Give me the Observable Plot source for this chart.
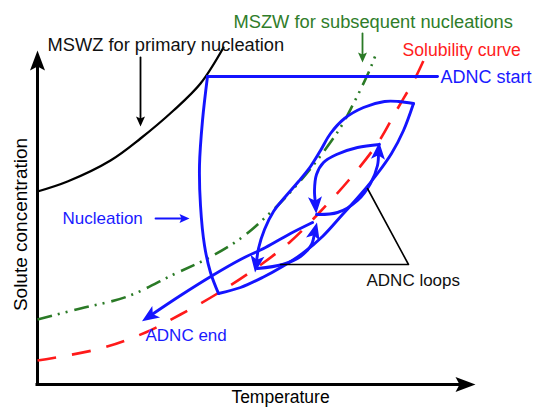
<!DOCTYPE html>
<html><head><meta charset="utf-8">
<script src="https://cdn.jsdelivr.net/npm/d3@7"></script>
<script src="https://cdn.jsdelivr.net/npm/@observablehq/plot@0.6"></script>
<style>body{margin:0;background:#fff}#chart svg{display:block}</style>
</head><body><div id="chart"></div>
<script>
// Schematic values, arbitrary units (temperature 0-110, concentration 0-84)
const primaryT = [0, 7.5, 18.25, 25.75, 34, 40.75, 46.5];
const primaryC = [48.25, 50.75, 56, 61.5, 68.5, 75.25, 84.25];

const subseqT = [0, 10.75, 22.5, 34, 42.5, 50.75, 58.25, 64.5, 70.25, 75.75, 79, 81.25, 83, 84.75];
const subseqC = [16.25, 19, 22, 27.5, 31.5, 36.5, 43, 49.5, 56.5, 64.25, 70.25, 74.75, 78.5, 83];

const solT = [0, 15.75, 27, 35.75, 45, 54.5, 63.25, 70.25, 77.75, 85, 89.75, 94.5, 96.75];
const solC = [6, 9, 13, 17.5, 22.75, 29, 35.75, 42.75, 51, 60.25, 68.5, 76.75, 81.5];

const startT = [100, 42.5];
const startC = [77, 77];

const nuclT = [42.5, 41.25, 40.5, 40.75, 41.75, 43.25, 45.25];
const nuclC = [77, 66, 54.75, 44.75, 34.75, 28, 22.75];

const loop1LowT = [45.25, 50.75, 56.25, 61.25, 66.25, 71.25, 76.25, 80.75, 85, 88.5, 91.5, 94];
const loop1LowC = [22.75, 24.25, 26.75, 29.5, 32.75, 37, 42.5, 47.5, 52.75, 57.75, 63.5, 70.25];

const loop1UpT = [94, 90.25, 86.75, 81.5, 76.75, 73.25, 70.75, 68.25, 65.25, 62, 59, 56.75, 55.25, 54.75];
const loop1UpC = [70.25, 70.75, 70.75, 69.25, 66.5, 62.75, 58.5, 54.5, 50.75, 47, 43.25, 38.75, 34, 30.5];

const loop2UpT = [85.5, 80, 74.75, 71.5, 69.75, 69.25, 69.5];
const loop2UpC = [60, 59.25, 57.5, 55.5, 52.5, 48.5, 45.25];

const loop2LowT = [69.75, 75, 80, 83.25, 85, 85.25];
const loop2LowC = [42.5, 43, 46, 50.25, 54.75, 58];

const loop3LowT = [55, 61.25, 65.75, 68.5, 69.25];
const loop3LowC = [29, 30, 32, 35, 38];

const endT = [68.75, 63.25, 57, 50.75, 43.75, 35.75, 28.25];
const endC = [40.5, 37.75, 34.25, 31.25, 27.25, 22.25, 17.25];

const loopsPointerT = [82.5, 92.75, 60.75];
const loopsPointerC = [49, 30, 30];

const primaryArrowT = [25.75, 25.75];
const primaryArrowC = [81.75, 66];
const subseqArrowT = [81.25, 81.25];
const subseqArrowC = [87.75, 82];
const nuclArrowT = [29.5, 36.5];
const nuclArrowC = [41.5, 41.5];

const axisMaxT = 106.5;
const axisMaxC = 80.5;

const labels = [
  {text: "MSWZ for primary nucleation", x: 2.5, y: 84.75, color: "#111111", size: 18.3},
  {text: "MSZW for subsequent nucleations", x: 49, y: 90.5, color: "#2f7d2a", size: 18.3},
  {text: "Solubility curve", x: 91.25, y: 83.5, color: "#ff1c1c", size: 17.6},
  {text: "ADNC start", x: 100.75, y: 76.75, color: "#1a1aff", size: 18},
  {text: "Nucleation", x: 6.25, y: 41.5, color: "#1a1aff", size: 17},
  {text: "ADNC end", x: 27, y: 12.25, color: "#1a1aff", size: 17},
  {text: "ADNC loops", x: 82.25, y: 26, color: "#111111", size: 17}
];

const BLUE = "#1414ff", RED = "#ff1a1a", GREEN = "#2a7a26", BLACK = "#000";

const pts = (xs, ys) => xs.map((x, i) => ({x, y: ys[i]}));
const endOf = (xs, ys) => {
  const n = xs.length;
  return {x: xs[n - 1], y: ys[n - 1], a: Math.atan2(xs[n - 1] - xs[n - 2], ys[n - 1] - ys[n - 2]) * 180 / Math.PI};
};
const head = (len, half, notch) => ({
  draw(ctx) {
    ctx.moveTo(0, -0.6 * len);
    ctx.lineTo(half, 0.4 * len);
    ctx.lineTo(0, 0.4 * len - notch);
    ctx.lineTo(-half, 0.4 * len);
    ctx.closePath();
  }
});
const bigHead = head(17, 7, 4);
const axisHead = head(20, 7.5, 4);
const smallHead = head(10, 4.5, 2);

const curve = (xs, ys, opts) => Plot.line(pts(xs, ys), {x: "x", y: "y", curve: "catmull-rom", ...opts});
const heads = (list, symbol, fill) => Plot.dot(list, {x: "x", y: "y", rotate: "a", symbol, fill, stroke: "none"});

const blueW = 2.9;

const chart = Plot.plot({
  width: 533, height: 407,
  marginLeft: 37, marginRight: 56, marginTop: 48, marginBottom: 23,
  x: {domain: [0, 110], axis: null},
  y: {domain: [0, 84], axis: null},
  style: {fontFamily: "'Liberation Sans', Arial, sans-serif", background: "white", overflow: "visible"},
  marks: [
    // axes
    Plot.ruleY([0], {x1: 0, x2: axisMaxT, stroke: BLACK, strokeWidth: 3, strokeLinecap: "square"}),
    Plot.ruleX([0], {y1: 0, y2: axisMaxC, stroke: BLACK, strokeWidth: 3, strokeLinecap: "square"}),
    heads([endOf([0, axisMaxT], [0, 0]), endOf([0, 0], [0, axisMaxC])], axisHead, BLACK),
    // reference curves
    curve(primaryT, primaryC, {stroke: BLACK, strokeWidth: 2.3}),
    curve(subseqT, subseqC, {stroke: GREEN, strokeWidth: 2.6, strokeDasharray: "15,6,2,6,2,7", strokeLinecap: "butt"}),
    curve(solT, solC, {stroke: RED, strokeWidth: 2.6, strokeDasharray: "19,16", strokeLinecap: "butt"}),
    // ADNC trajectory
    curve(startT, startC, {stroke: BLUE, strokeWidth: blueW}),
    curve(nuclT, nuclC, {stroke: BLUE, strokeWidth: blueW}),
    curve(loop1LowT, loop1LowC, {stroke: BLUE, strokeWidth: blueW}),
    curve(loop1UpT, loop1UpC, {stroke: BLUE, strokeWidth: blueW}),
    curve(loop2UpT, loop2UpC, {stroke: BLUE, strokeWidth: blueW}),
    curve(loop2LowT, loop2LowC, {stroke: BLUE, strokeWidth: blueW}),
    curve(loop3LowT, loop3LowC, {stroke: BLUE, strokeWidth: blueW}),
    curve(endT, endC, {stroke: BLUE, strokeWidth: blueW}),
    heads([
      endOf(loop1UpT, loop1UpC), endOf(loop2UpT, loop2UpC), endOf(loop2LowT, loop2LowC),
      endOf(loop3LowT, loop3LowC), endOf(endT, endC)
    ], bigHead, BLUE),
    // annotation pointers
    Plot.line(pts(loopsPointerT, loopsPointerC), {x: "x", y: "y", stroke: BLACK, strokeWidth: 1.6}),
    Plot.line(pts(primaryArrowT, primaryArrowC), {x: "x", y: "y", stroke: BLACK, strokeWidth: 1.8}),
    heads([endOf(primaryArrowT, primaryArrowC)], smallHead, BLACK),
    Plot.line(pts(subseqArrowT, subseqArrowC), {x: "x", y: "y", stroke: GREEN, strokeWidth: 1.8}),
    heads([endOf(subseqArrowT, subseqArrowC)], smallHead, GREEN),
    Plot.line(pts(nuclArrowT, nuclArrowC), {x: "x", y: "y", stroke: BLUE, strokeWidth: 1.8}),
    heads([endOf(nuclArrowT, nuclArrowC)], smallHead, BLUE),
    // labels
    ...labels.map(d => Plot.text([d], {x: "x", y: "y", text: "text", fill: d.color, textAnchor: "start", fontSize: d.size})),
    Plot.text(["Temperature"], {x: 60.75, y: -3.25, text: d => d, fill: BLACK, fontSize: 17.5}),
    Plot.text(["Solute concentration"], {x: -4.25, y: 40, text: d => d, fill: BLACK, fontSize: 19, rotate: -90})
  ]
});
document.getElementById("chart").appendChild(chart);
</script></body></html>
